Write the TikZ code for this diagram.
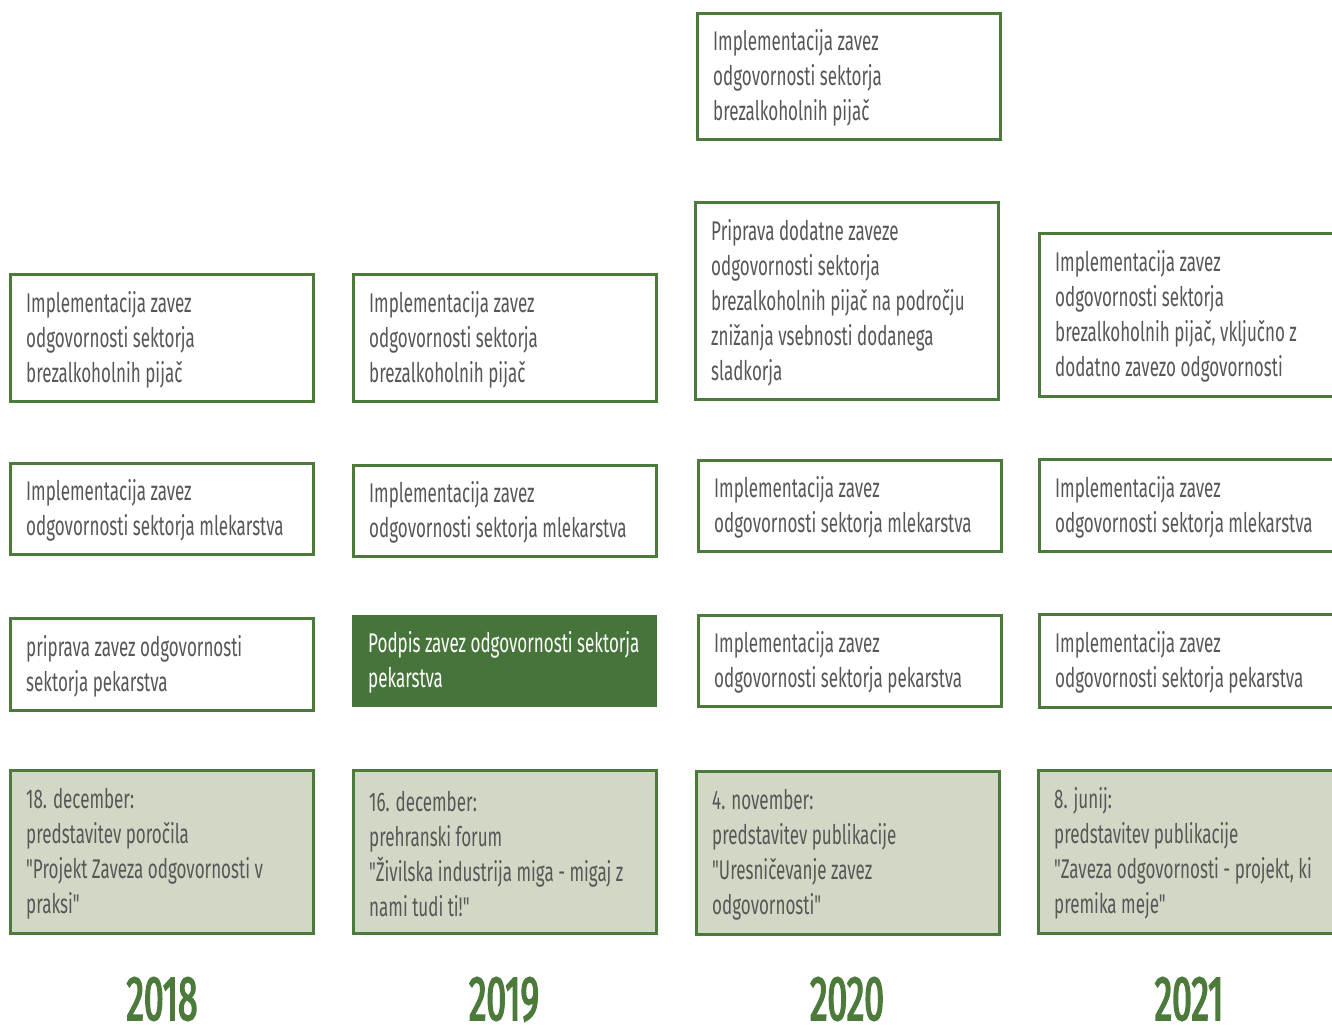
\documentclass[tikz,border=0pt]{standalone}
\usepackage{fontspec}
\setmainfont{Fira Sans}[FakeStretch=0.63, Ligatures=TeXOff]
\newfontfamily\yearfont{Fira Sans}[FakeStretch=0.56, FakeBold=2.5]
\definecolor{bordergreen}{HTML}{4B7A3B}
\definecolor{darkgreen}{HTML}{46743A}
\definecolor{lightfill}{HTML}{D1D9C6}
\definecolor{txtgray}{HTML}{575757}
\begin{document}
\begin{tikzpicture}[x=1pt,y=-1pt,
  boxw/.style={draw=bordergreen, line width=2.5pt, fill=white, minimum width=303pt, anchor=north west, inner sep=0pt},
  boxl/.style={draw=bordergreen, line width=2.5pt, fill=lightfill, minimum width=303pt, anchor=north west, inner sep=0pt},
  boxd/.style={draw=darkgreen, line width=0pt, fill=darkgreen, minimum width=304pt, anchor=north west, inner sep=0pt},
  txt/.style={anchor=west, align=left, inner sep=0pt, text=txtgray, font=\fontsize{27}{35}\selectfont},
  txtw/.style={txt, text=white},
  year/.style={anchor=base, inner sep=0pt, text=bordergreen, font=\yearfont\fontsize{63}{70}\selectfont}
]
\useasboundingbox (0,0) rectangle (1332,1029);
\clip (0,0) rectangle (1332,1029);

% Column 2018
\node[boxw, minimum height=127pt] (c1a) at (9,273) {};
\node[txt] (t1a) at ([xshift=17pt,yshift=-2pt]c1a.west) {Implementacija zavez\\odgovornosti sektorja\\brezalkoholnih pijač};
\node[boxw, minimum height=91pt] (c1b) at (9,462) {};
\node[txt] (t1b) at ([xshift=17pt,yshift=-2pt]c1b.west) {Implementacija zavez\\odgovornosti sektorja mlekarstva};
\node[boxw, minimum height=92pt] (c1c) at (9,617) {};
\node[txt] (t1c) at ([xshift=17pt,yshift=-2pt]c1c.west) {priprava zavez odgovornosti\\sektorja pekarstva};
\node[boxl, minimum height=163pt] (c1d) at (9,769) {};
\node[txt] (t1d) at ([xshift=17pt,yshift=-2pt]c1d.west) {18. december:\\predstavitev poročila\\"Projekt Zaveza odgovornosti v\\praksi"};
\node[year] (y1) at (162,1020) {2018};

% Column 2019
\node[boxw, minimum height=127pt] (c2a) at (352,273) {};
\node[txt] (t2a) at ([xshift=17pt,yshift=-2pt]c2a.west) {Implementacija zavez\\odgovornosti sektorja\\brezalkoholnih pijač};
\node[boxw, minimum height=91pt] (c2b) at (352,464) {};
\node[txt] (t2b) at ([xshift=17pt,yshift=-2pt]c2b.west) {Implementacija zavez\\odgovornosti sektorja mlekarstva};
\node[boxd, minimum height=91pt] (c2c) at (352,615) {};
\node[txtw] (t2c) at ([xshift=16pt,yshift=-2pt]c2c.west) {Podpis zavez odgovornosti sektorja\\pekarstva};
\node[boxl, minimum height=163pt] (c2d) at (352,769) {};
\node[txt] (t2d) at ([xshift=17pt,yshift=-2pt]c2d.west) {16. december:\\prehranski forum\\"Živilska industrija miga - migaj z\\nami tudi ti!"};
\node[year] (y2) at (504,1020) {2019};

% Column 2020
\node[boxw, minimum height=126pt] (c3t) at (696,12) {};
\node[txt] (t3t) at ([xshift=17pt,yshift=-2pt]c3t.west) {Implementacija zavez\\odgovornosti sektorja\\brezalkoholnih pijač};
\node[boxw, minimum height=197pt] (c3a) at (694,201) {};
\node[txt] (t3a) at ([xshift=17pt,yshift=-2pt]c3a.west) {Priprava dodatne zaveze\\odgovornosti sektorja\\brezalkoholnih pijač na področju\\znižanja vsebnosti dodanega\\sladkorja};
\node[boxw, minimum height=91pt] (c3b) at (697,459) {};
\node[txt] (t3b) at ([xshift=17pt,yshift=-2pt]c3b.west) {Implementacija zavez\\odgovornosti sektorja mlekarstva};
\node[boxw, minimum height=91pt] (c3c) at (697,614) {};
\node[txt] (t3c) at ([xshift=17pt,yshift=-2pt]c3c.west) {Implementacija zavez\\odgovornosti sektorja pekarstva};
\node[boxl, minimum height=163pt] (c3d) at (695,770) {};
\node[txt] (t3d) at ([xshift=17pt,yshift=-2pt]c3d.west) {4. november:\\predstavitev publikacije\\"Uresničevanje zavez\\odgovornosti"};
\node[year] (y3) at (847,1020) {2020};

% Column 2021
\node[boxw, minimum height=163pt] (c4a) at (1038,232) {};
\node[txt] (t4a) at ([xshift=17pt,yshift=-2pt]c4a.west) {Implementacija zavez\\odgovornosti sektorja\\brezalkoholnih pijač, vključno z\\dodatno zavezo odgovornosti};
\node[boxw, minimum height=92pt] (c4b) at (1038,458) {};
\node[txt] (t4b) at ([xshift=17pt,yshift=-2pt]c4b.west) {Implementacija zavez\\odgovornosti sektorja mlekarstva};
\node[boxw, minimum height=93pt] (c4c) at (1038,613) {};
\node[txt] (t4c) at ([xshift=17pt,yshift=-2pt]c4c.west) {Implementacija zavez\\odgovornosti sektorja pekarstva};
\node[boxl, minimum height=163pt] (c4d) at (1037,769) {};
\node[txt] (t4d) at ([xshift=17pt,yshift=-2pt]c4d.west) {8. junij:\\predstavitev publikacije\\"Zaveza odgovornosti - projekt, ki\\premika meje"};
\node[year] (y4) at (1189,1020) {2021};
\end{tikzpicture}
\end{document}
